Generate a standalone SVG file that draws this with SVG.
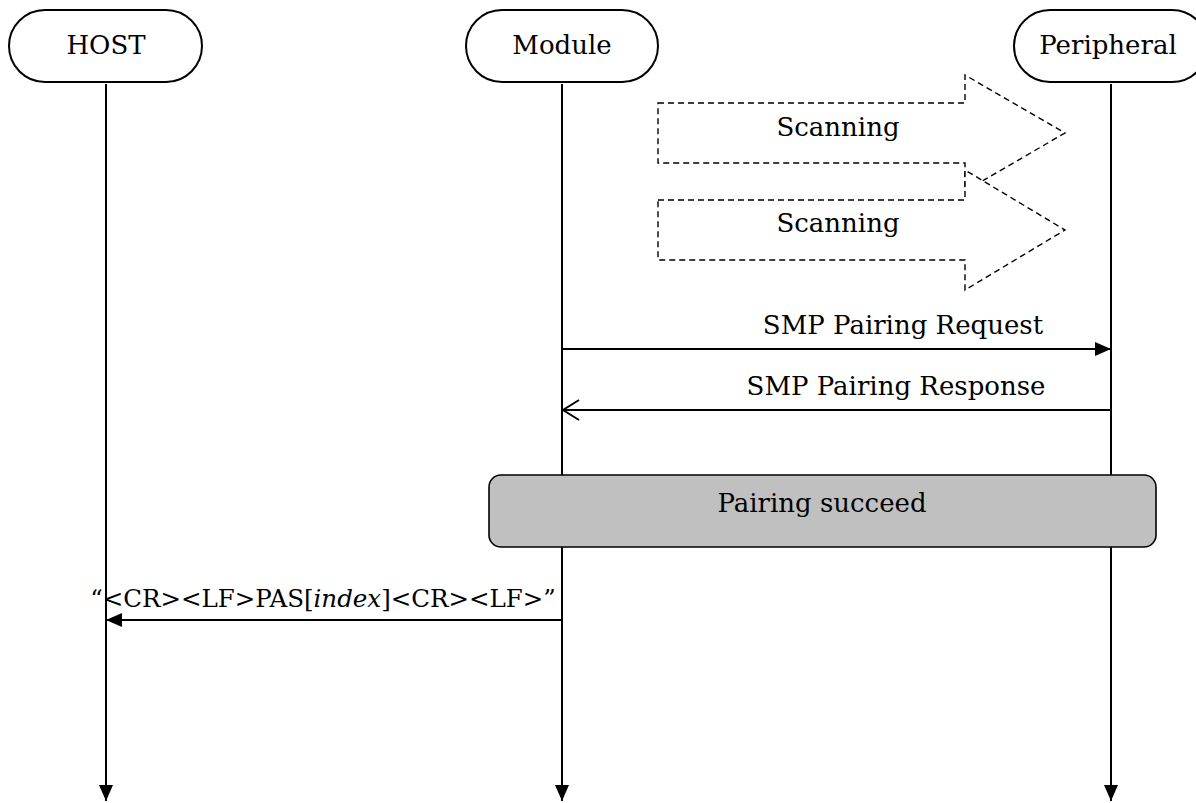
<svg xmlns="http://www.w3.org/2000/svg" width="1196" height="803" viewBox="0 0 1196 803">
<defs>
<style>
text{font-family:"DejaVu Serif","Liberation Serif",serif;font-size:26px;fill:#000}
text.small{font-size:24.5px}
.actor{fill:#fff;stroke:#000;stroke-width:2}
.life{stroke:#000;stroke-width:2;fill:none}
.msg{stroke:#000;stroke-width:2;fill:none}
.scan{fill:#fff;stroke:#000;stroke-width:1.4;stroke-dasharray:6 4}
.box{fill:#c0c0c0;stroke:#000;stroke-width:1.6}
</style>
<marker id="fill" viewBox="0 0 16 14" refX="16" refY="7" markerWidth="16" markerHeight="14" markerUnits="userSpaceOnUse" orient="auto"><path d="M0,0 L16,7 L0,14 Z" fill="#000"/></marker>
<marker id="open" viewBox="0 0 18 22" refX="17" refY="11" markerWidth="18" markerHeight="22" markerUnits="userSpaceOnUse" orient="auto"><path d="M1,1 L17,11 L1,21" fill="none" stroke="#000" stroke-width="2"/></marker>
</defs>
<rect width="1196" height="803" fill="#fff"/>
<g id="HOST">
<rect class="actor" x="9" y="10" width="193" height="72" rx="36"/>
<text x="106" y="54" text-anchor="middle">HOST</text>
</g>
<g id="Module">
<rect class="actor" x="466" y="10" width="192" height="72" rx="36"/>
<text x="562" y="54" text-anchor="middle">Module</text>
</g>
<g id="Peripheral">
<rect class="actor" x="1014" y="10" width="194" height="72" rx="36"/>
<text x="1108" y="54" text-anchor="middle">Peripheral</text>
</g>
<g id="lifelines">
<line class="life" x1="106" y1="84" x2="106" y2="801" marker-end="url(#fill)"/>
<line class="life" x1="562" y1="84" x2="562" y2="801" marker-end="url(#fill)"/>
<line class="life" x1="1111" y1="84" x2="1111" y2="801" marker-end="url(#fill)"/>
</g>
<g id="scanning1">
<path class="scan" d="M658,103 H965 V75 L1065,133 L965,191 V163 H658 Z"/>
<text x="838" y="136" text-anchor="middle">Scanning</text>
</g>
<g id="scanning2">
<path class="scan" d="M658,200 H965 V170 L1065,230 L965,290 V260 H658 Z"/>
<text x="838" y="232" text-anchor="middle">Scanning</text>
</g>
<g id="pairing">
<rect class="box" x="489" y="475" width="667" height="72" rx="12"/>
<text x="822" y="512" text-anchor="middle">Pairing succeed</text>
</g>
<g id="connectors">
<line class="msg" x1="562" y1="349" x2="1111" y2="349" marker-end="url(#fill)"/>
<text x="903" y="334" text-anchor="middle">SMP Pairing Request</text>
<line class="msg" x1="1111" y1="410" x2="563" y2="410" marker-end="url(#open)"/>
<text x="896" y="395" text-anchor="middle">SMP Pairing Response</text>
<line class="msg" x1="562" y1="620" x2="106" y2="620" marker-end="url(#fill)"/>
<text class="small" x="323" y="607" text-anchor="middle">“&lt;CR&gt;&lt;LF&gt;PAS[<tspan font-style="italic">index</tspan>]&lt;CR&gt;&lt;LF&gt;”</text>
</g>
</svg>
